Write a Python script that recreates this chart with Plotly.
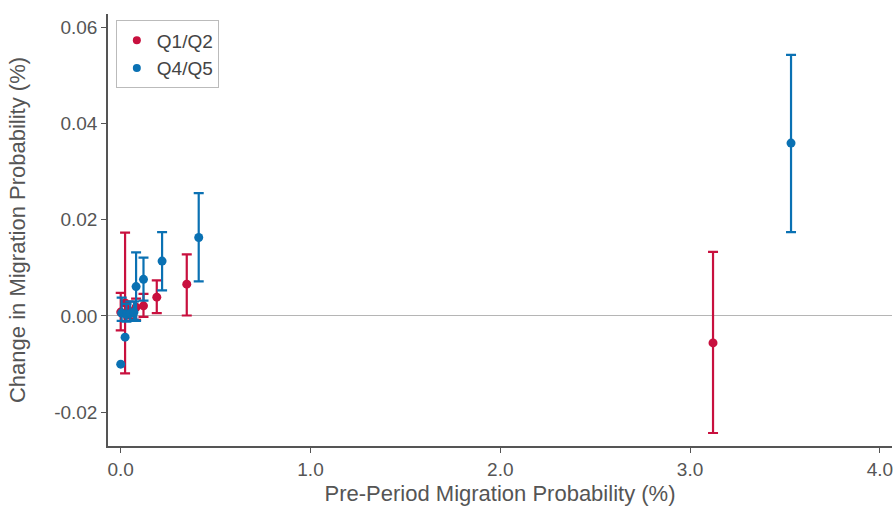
import plotly.graph_objects as go

# Q1/Q2 series
q12_x = [0.0, 0.023, 0.04, 0.081, 0.12, 0.19, 0.348, 3.121]
q12_y = [0.0008, 0.0027, 0.0012, 0.0018, 0.0021, 0.0039, 0.0066, -0.0056]
q12_lo = [-0.0030, -0.0119, -0.0005, -0.0008, -0.0002, 0.0006, 0.0001, -0.0243]
q12_hi = [0.0048, 0.0173, 0.0030, 0.0036, 0.0046, 0.0074, 0.0128, 0.0133]

# Q4/Q5 series (points with error bars)
q45_x = [0.005, 0.03, 0.05, 0.07, 0.081, 0.12, 0.218, 0.411, 3.532]
q45_y = [0.0006, 0.0003, 0.0005, 0.0008, 0.0061, 0.0076, 0.0114, 0.0163, 0.0359]
q45_lo = [-0.0010, -0.0012, -0.0010, -0.0008, -0.0010, 0.0032, 0.0053, 0.0072, 0.0174]
q45_hi = [0.0038, 0.0025, 0.0030, 0.0030, 0.0132, 0.0121, 0.0174, 0.0255, 0.0542]
# Q4/Q5 points without visible error bars
q45_plain_x = [0.0, 0.023]
q45_plain_y = [-0.0100, -0.0044]

x_ticks = [0, 1, 2, 3, 4]
x_ticktext = ["0.0", "1.0", "2.0", "3.0", "4.0"]
y_ticks = [-0.02, 0.0, 0.02, 0.04, 0.06]
y_ticktext = ["-0.02", "0.00", "0.02", "0.04", "0.06"]

RED = "#c8103e"
BLUE = "#0a71b3"

def trace(x, y, lo, hi, name, color):
    return go.Scatter(
        x=x, y=y, mode="markers", name=name, showlegend=False,
        marker=dict(color=color, size=9),
        error_y=dict(type="data", symmetric=False,
                     array=[h - v for h, v in zip(hi, y)],
                     arrayminus=[v - l for v, l in zip(y, lo)],
                     color=color, thickness=2.2, width=5),
    )

def legend_entry(name, color):
    return go.Scatter(x=[None], y=[None], mode="markers", name=name,
                      marker=dict(color=color, size=8))

fig = go.Figure()
fig.add_trace(trace(q12_x, q12_y, q12_lo, q12_hi, "Q1/Q2", RED))
fig.add_trace(trace(q45_x, q45_y, q45_lo, q45_hi, "Q4/Q5", BLUE))
fig.add_trace(go.Scatter(x=q45_plain_x, y=q45_plain_y, mode="markers",
                         name="Q4/Q5", showlegend=False,
                         marker=dict(color=BLUE, size=9)))
fig.add_trace(legend_entry("Q1/Q2", RED))
fig.add_trace(legend_entry("Q4/Q5", BLUE))

fig.update_layout(
    width=896, height=506,
    margin=dict(l=108, r=4, t=14, b=60),
    paper_bgcolor="white", plot_bgcolor="white",
    font=dict(family="Liberation Sans, Arial, sans-serif", color="#555555", size=18),
    legend=dict(x=0.01, y=0.985, xanchor="left", yanchor="top",
                bordercolor="#bbbbbb", borderwidth=1, bgcolor="white",
                font=dict(size=19, color="#444444"), itemwidth=30,
                tracegroupgap=0),
    xaxis=dict(range=[-0.067, 4.064], tickvals=x_ticks, ticktext=x_ticktext,
               tickfont=dict(size=19),
               showgrid=False, zeroline=False, showline=True, linecolor="#555555",
               linewidth=1.5, ticks="outside", ticklen=5, tickcolor="#555555",
               automargin=False, ticklabeloverflow="allow",
               title=dict(text="Pre-Period Migration Probability (%)", standoff=9)),
    yaxis=dict(range=[-0.027, 0.0627], tickvals=y_ticks, ticktext=y_ticktext,
               tickfont=dict(size=19),
               showgrid=False, zeroline=True, zerolinecolor="#b5b5b5", zerolinewidth=1,
               showline=True, linecolor="#555555", linewidth=1.5,
               ticks="outside", ticklen=5, tickcolor="#555555",
               automargin=False,
               title=dict(text="Change in Migration Probability (%)", standoff=22)),
)

fig.write_html("out.html",
               config={"displayModeBar": False},
               post_script="document.body.style.margin='0';document.body.style.overflow='hidden';")
